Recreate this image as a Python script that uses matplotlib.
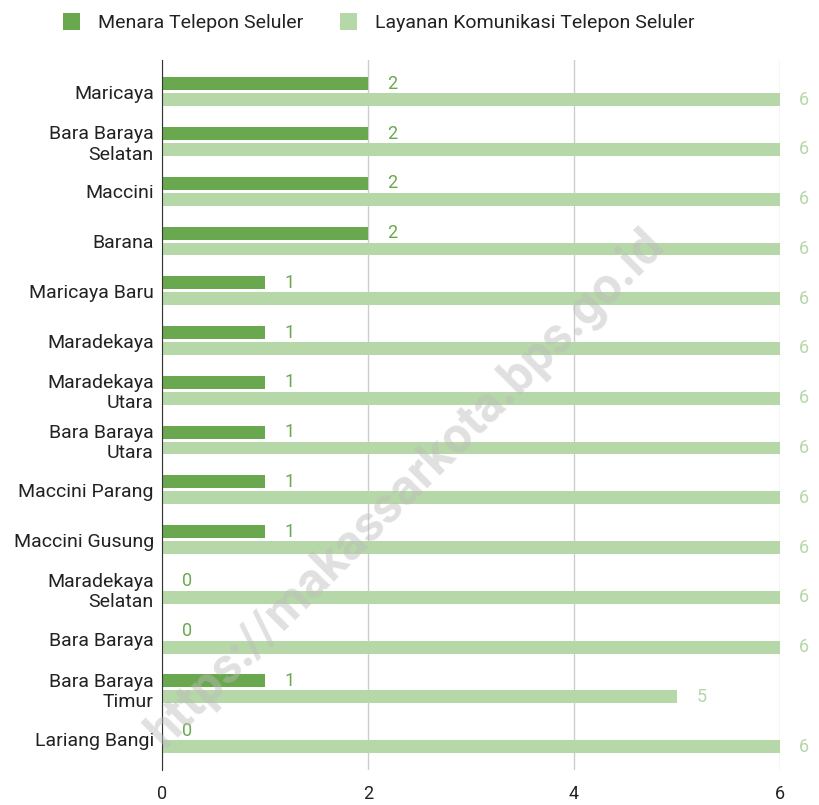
import matplotlib
matplotlib.use("Agg")
import matplotlib.pyplot as plt
import numpy as np

#%% data
kelurahan = ["Maricaya", "Bara Baraya\nSelatan", "Maccini", "Barana", "Maricaya Baru",
             "Maradekaya", "Maradekaya\nUtara", "Bara Baraya\nUtara", "Maccini Parang",
             "Maccini Gusung", "Maradekaya\nSelatan", "Bara Baraya", "Bara Baraya\nTimur",
             "Lariang Bangi"]
menara = [2, 2, 2, 2, 1, 1, 1, 1, 1, 1, 0, 0, 1, 0]
layanan = [6, 6, 6, 6, 6, 6, 6, 6, 6, 6, 6, 6, 5, 6]
xticks = [0, 2, 4, 6]

#%% plot
plt.rcParams['font.family'] = ['Roboto', 'DejaVu Sans']
fig = plt.figure(figsize=(8.19, 8.05), dpi=100)
ax = fig.add_axes([0.198, 0.0435, 0.754, 0.8815])

c_dark = "#6aa84f"
c_light = "#b6d7a8"
y = np.arange(len(kelurahan))
h = 0.26
off = 0.16
ax.barh(y - off, menara, height=h, color=c_dark, label="Menara Telepon Seluler", zorder=3)
ax.barh(y + off, layanan, height=h, color=c_light, label="Layanan Komunikasi Telepon Seluler", zorder=3)

for yi, v in zip(y, menara):
    ax.annotate(str(v), (v, yi - off), xytext=(14, 0), textcoords="offset points",
                va="center", ha="left", color=c_dark, fontsize=13)
for yi, v in zip(y, layanan):
    ax.annotate(str(v), (v, yi + off), xytext=(14, 0), textcoords="offset points",
                va="center", ha="left", color=c_light, fontsize=13)

ax.set_ylim(len(kelurahan) - 0.37, -0.63)
ax.set_xlim(0, 6)
ax.set_yticks(y)
ax.set_yticklabels(kelurahan, fontsize=14, color="#222222", linespacing=1.15)
ax.set_xticks(xticks)
ax.set_xticklabels([str(t) for t in xticks], fontsize=13, color="#222222")
ax.tick_params(length=0, axis="both")
ax.tick_params(axis="x", pad=11)
ax.tick_params(axis="y", pad=6)
ax.grid(axis="x", color="#cccccc", linewidth=1, zorder=0)
for s in ["top", "right", "bottom"]:
    ax.spines[s].set_visible(False)
ax.spines["left"].set_color("#333333")
ax.spines["left"].set_zorder(4)

fig.legend(loc="upper left", bbox_to_anchor=(0.055, 1.005), ncol=2, frameon=False,
           fontsize=14, handlelength=0.9, handleheight=0.9, columnspacing=1.9,
           handletextpad=0.9, labelcolor="#222222")

# watermark
fig.text(0.495, 0.393, "https://makassarkota.bps.go.id", rotation=45, fontsize=36,
         fontweight="bold", color="#bbbbbb", alpha=0.45, ha="center", va="center", zorder=10)

plt.savefig("out.png", dpi=100)
